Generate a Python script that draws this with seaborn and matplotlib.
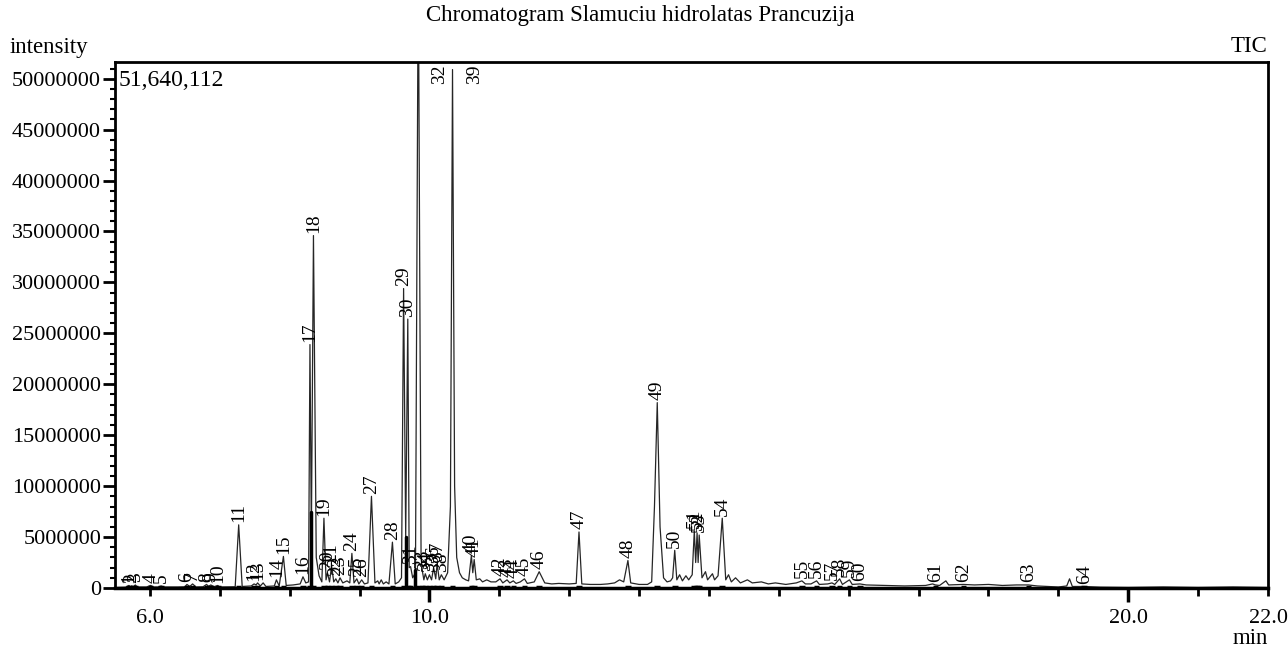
import numpy as np
import pandas as pd
import matplotlib
matplotlib.use("Agg")
import matplotlib.pyplot as plt
from matplotlib.ticker import MultipleLocator, FuncFormatter
import seaborn as sns

# ---------------- data ----------------
title = "Chromatogram Slamuciu hidrolatas Prancuzija"
max_intensity_text = "51,640,112"

# trace vertices: retention time (min) and intensity (millions of counts)
trace_time = [
    5.50, 5.65, 5.70, 5.72, 5.74, 5.76, 5.79, 5.82, 5.95, 6.01, 6.05, 6.12, 6.16, 6.20,
    6.40, 6.50, 6.53, 6.57, 6.61, 6.66, 6.76, 6.81, 6.84, 6.87, 6.92, 6.97, 7.00,
    7.22, 7.27, 7.32, 7.45, 7.49, 7.52, 7.54, 7.58, 7.62, 7.66, 7.78, 7.81, 7.85,
    7.91, 7.95, 8.05, 8.15, 8.19, 8.23, 8.27, 8.29, 8.31, 8.34, 8.38, 8.42, 8.46,
    8.49, 8.52, 8.54, 8.57, 8.60, 8.63, 8.66, 8.69, 8.72, 8.76, 8.82, 8.86, 8.89,
    8.92, 8.96, 8.99, 9.03, 9.07, 9.12, 9.17, 9.22, 9.26, 9.28, 9.31, 9.34, 9.38,
    9.42, 9.47, 9.51, 9.56, 9.60, 9.63, 9.66, 9.69, 9.71, 9.73, 9.76, 9.80, 9.84,
    9.88, 9.90, 9.92, 9.94, 9.97, 10.00, 10.03, 10.06, 10.09, 10.11, 10.14, 10.17,
    10.21, 10.26, 10.30, 10.33, 10.36, 10.39, 10.43, 10.47, 10.52, 10.56, 10.60,
    10.62, 10.64, 10.67, 10.72, 10.76, 10.82, 10.88, 10.95, 11.01, 11.05, 11.11,
    11.15, 11.20, 11.24, 11.30, 11.36, 11.40, 11.50, 11.57, 11.65, 11.75, 11.85,
    12.00, 12.10, 12.14, 12.18, 12.30, 12.45, 12.55, 12.65, 12.72, 12.78, 12.84,
    12.88, 13.00, 13.12, 13.18, 13.22, 13.26, 13.30, 13.35, 13.40, 13.45, 13.48,
    13.51, 13.54, 13.58, 13.62, 13.67, 13.71, 13.76, 13.79, 13.81, 13.83, 13.845,
    13.86, 13.90, 13.95, 13.98, 14.05, 14.08, 14.13, 14.19, 14.24, 14.28, 14.32,
    14.38, 14.45, 14.55, 14.62, 14.75, 14.85, 14.95, 15.10, 15.25, 15.33, 15.38,
    15.46, 15.54, 15.58, 15.70, 15.76, 15.80, 15.87, 15.91, 16.01, 16.05, 16.16,
    16.25, 16.50, 16.80, 17.10, 17.20, 17.24, 17.30, 17.39, 17.43, 17.64, 17.80,
    18.00, 18.20, 18.40, 18.57, 18.70, 19.00, 19.12, 19.16, 19.20, 19.37, 19.60,
    20.00, 20.50, 21.00, 21.50, 22.00,
]
trace_intensity = [
    0.05, 0.08, 0.25, 0.08, 0.20, 0.08, 0.30, 0.10, 0.10, 0.25, 0.10, 0.10, 0.20, 0.10,
    0.10, 0.12, 0.35, 0.15, 0.40, 0.10, 0.12, 0.35, 0.15, 0.30, 0.12, 0.25, 0.10,
    0.12, 6.20, 0.15, 0.20, 0.40, 0.30, 0.50, 0.20, 0.50, 0.15, 0.20, 0.80, 0.20,
    3.10, 0.25, 0.30, 0.40, 1.10, 0.50, 0.60, 23.90, 5.00, 34.60, 3.00, 1.20, 0.60,
    6.85, 0.80, 1.50, 0.60, 2.20, 0.60, 0.90, 0.50, 1.00, 0.50, 0.70, 0.50, 3.40,
    0.50, 0.90, 0.40, 0.80, 0.40, 0.50, 9.00, 0.50, 0.70, 0.40, 0.80, 0.40, 0.60,
    0.40, 4.50, 0.40, 0.60, 1.00, 29.40, 5.00, 26.40, 2.00, 2.10, 1.00, 1.50, 62.00,
    3.00, 1.60, 0.80, 1.40, 0.80, 1.30, 0.80, 2.00, 0.90, 2.40, 0.80, 1.30,
    0.80, 1.50, 8.00, 50.90, 10.00, 3.00, 1.50, 1.00, 0.80, 0.70, 3.20,
    1.50, 2.80, 0.80, 0.90, 0.60, 0.80, 0.60, 0.60, 0.90, 0.50, 0.80,
    0.50, 0.70, 0.45, 0.60, 0.90, 0.45, 0.60, 1.60, 0.50, 0.40, 0.45,
    0.40, 0.45, 5.50, 0.40, 0.35, 0.35, 0.40, 0.50, 0.80, 0.60, 2.70,
    0.50, 0.35, 0.35, 0.60, 8.00, 18.20, 6.00, 1.00, 0.60, 0.70, 1.00,
    3.70, 0.80, 1.30, 0.70, 1.20, 0.80, 1.30, 5.60, 2.50, 5.40, 2.50,
    5.20, 1.00, 1.60, 0.80, 1.40, 0.80, 1.20, 6.85, 0.80, 1.30, 0.60,
    1.00, 0.50, 0.80, 0.50, 0.60, 0.40, 0.50, 0.35, 0.50, 0.70, 0.40,
    0.40, 0.70, 0.35, 0.40, 0.50, 0.35, 0.90, 0.35, 0.80, 0.35, 0.40,
    0.30, 0.25, 0.20, 0.25, 0.40, 0.30, 0.25, 0.70, 0.30, 0.35, 0.30,
    0.35, 0.25, 0.30, 0.30, 0.20, 0.10, 0.20, 0.90, 0.15, 0.15, 0.08,
    0.05, 0.10, 0.05, 0.10, 0.05,
]

# labelled peaks: number, retention time (min), apex intensity (millions)
peak_number = list(range(1, 65))
peak_time = [
    5.70, 5.74, 5.79, 6.01, 6.16, 6.53, 6.61, 6.81, 6.87, 6.97,
    7.27, 7.49, 7.54, 7.81, 7.91, 8.19, 8.29, 8.34, 8.49, 8.54,
    8.60, 8.66, 8.72, 8.89, 8.96, 9.03, 9.17, 9.47, 9.63, 9.69,
    9.73, 9.84, 9.90, 9.94, 10.00, 10.06, 10.11, 10.17, 10.33, 10.60,
    10.64, 11.01, 11.11, 11.20, 11.36, 11.57, 12.14, 12.84, 13.26, 13.51,
    13.79, 13.83, 13.86, 14.19, 15.33, 15.54, 15.76, 15.87, 16.01, 16.16,
    17.24, 17.64, 18.57, 19.37,
]
peak_height = [
    0.25, 0.20, 0.30, 0.25, 0.20, 0.35, 0.40, 0.35, 0.30, 0.25,
    6.20, 0.40, 0.50, 0.80, 3.10, 1.10, 23.90, 34.60, 6.85, 1.50,
    2.20, 0.90, 1.00, 3.40, 0.90, 0.80, 9.00, 4.50, 29.40, 26.40,
    2.10, 62.00, 1.60, 1.40, 1.30, 2.00, 2.40, 1.30, 50.90, 3.20,
    2.80, 0.90, 0.80, 0.70, 0.90, 1.60, 5.50, 2.70, 18.20, 3.70,
    5.60, 5.40, 5.20, 6.85, 0.70, 0.70, 0.50, 0.90, 0.80, 0.40,
    0.30, 0.35, 0.30, 0.15,
]

y_max = 51.640112  # millions
x_min, x_max = 5.5, 22.0

# ---------------- figure ----------------
sns.set_theme(style="white")
plt.rcParams["font.family"] = ["Liberation Serif", "DejaVu Serif"]

W, H = 1288, 650
fig = plt.figure(figsize=(W / 100, H / 100), dpi=100)
ax = fig.add_axes([115 / W, 1 - 588 / H, (1268 - 115) / W, (588 - 62) / H])

df = pd.DataFrame({"time": trace_time, "intensity": np.array(trace_intensity) * 1e6})
sns.lineplot(data=df, x="time", y="intensity", ax=ax, color="#262626",
             linewidth=0.9, estimator=None, sort=False, legend=False)

ax.set_xlim(x_min, x_max)
ax.set_ylim(0, y_max * 1e6)
ax.set_xlabel("")
ax.set_ylabel("")

# integration marks at the base of each labelled peak
for t, h in zip(peak_time, peak_height):
    ax.plot([t - 0.04, t + 0.04], [0.12e6, 0.12e6], color="black", lw=2.5,
            solid_capstyle="butt", zorder=3)
# drop lines of fused peaks
for t, h in [(8.31, 7.5), (9.66, 5.0), (9.80, 1.8)]:
    ax.plot([t, t], [0, h * 1e6], color="black", lw=2.5, zorder=3)

# peak labels
fs_tick = 16
fs_text = 16.5
fs_peak = 14
for n, t, h in zip(peak_number, peak_time, peak_height):
    if h > 45:  # label does not fit above the apex: hang it from the top, right of the peak
        ax.text(t + 0.31, y_max * 1e6 * 0.995, str(n), rotation=90, ha="center",
                va="top", fontsize=fs_peak, color="black", zorder=4)
    else:
        ax.text(t, h * 1e6 + 0.25e6, str(n), rotation=90, ha="center",
                va="bottom", fontsize=fs_peak, color="black", zorder=4)

# axes styling
for s in ax.spines.values():
    s.set_visible(True)
    s.set_color("black")
    s.set_linewidth(2)
ax.spines["bottom"].set_linewidth(2.5)

ax.yaxis.set_major_locator(MultipleLocator(5e6))
ax.yaxis.set_minor_locator(MultipleLocator(1e6))
ax.yaxis.set_major_formatter(FuncFormatter(lambda v, p: f"{int(round(v))}"))
ax.set_xticks([10, 20])
ax.set_xticklabels(["10.0", "20.0"])
minor_x = [m for m in range(6, 23) if m not in (10, 20)]
ax.set_xticks(minor_x, minor=True)
ax.set_xticklabels(["6.0" if m == 6 else ("22.0" if m == 22 else "") for m in minor_x],
                   minor=True)
ax.tick_params(axis="both", which="both", direction="out", colors="black",
               labelsize=fs_tick, left=True, bottom=True)
ax.tick_params(axis="y", which="major", length=9, width=2, pad=1)
ax.tick_params(axis="y", which="minor", length=3.5, width=1.5)
ax.tick_params(axis="x", which="major", length=10, width=2.5, pad=5)
ax.tick_params(axis="x", which="minor", length=6, width=2, pad=9)
ax.grid(False)

ax.text(0.003, 0.985, max_intensity_text, transform=ax.transAxes, ha="left",
        va="top", fontsize=fs_text + 0.5, color="black")

fig.text(640 / W, 1 - 16 / H, title, ha="center", va="center", fontsize=fs_text,
         color="black")
fig.text(10 / W, 1 - 47 / H, "intensity", ha="left", va="center", fontsize=fs_text,
         color="black")
fig.text(1267 / W, 1 - 47 / H, "TIC", ha="right", va="center", fontsize=fs_text,
         color="black")
fig.text(1250 / W, 1 - 638 / H, "min", ha="center", va="center", fontsize=fs_text,
         color="black")

fig.savefig("out.png", dpi=100, facecolor="white")
